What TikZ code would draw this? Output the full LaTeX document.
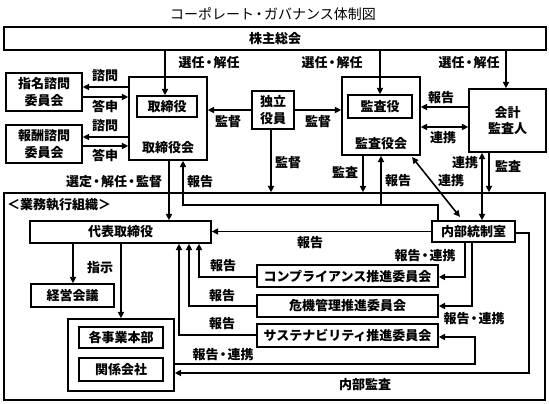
\documentclass[tikz,border=0pt]{standalone}
\usepackage{fontspec}
\setmainfont{Noto Sans CJK JP}
\usetikzlibrary{arrows.meta}
\newcommand\mydot{\kern-2pt・\kern-2pt}
\begin{document}
\begin{tikzpicture}[x=1pt,y=-1pt,
  bx/.style={draw, line width=1.3pt, inner sep=0pt, align=center, font=\fontsize{13}{16.5}\selectfont\bfseries},
  ar/.style={line width=1.6pt, -{Triangle[length=6.5pt,width=6pt]}},
  da/.style={line width=1.6pt, {Triangle[length=6.5pt,width=6pt]}-{Triangle[length=6.5pt,width=6pt]}},
  ln/.style={line width=1.6pt},
  lb/.style={inner sep=0pt, font=\fontsize{13}{15}\selectfont\bfseries}]
\useasboundingbox (0,0) rectangle (549,404);
% title
\node[inner sep=0pt, font=\fontsize{14}{15}\selectfont] (title) at (273,14) {コーポレート\mydot ガバナンス体制図};
% boxes
\node[bx, minimum width=542pt, minimum height=23pt] (sh) at (275,38.5) {株主総会};
\node[bx, minimum width=78pt, minimum height=83pt] (board) at (168,118.5) {};
\node[lb] (boardlbl) at (168,148) {取締役会};
\node[bx, minimum width=60pt, minimum height=21pt] (dir) at (167,106.5) {取締役};
\node[bx, minimum width=78pt, minimum height=78pt] (aud) at (381,116) {};
\node[lb] (audlbl) at (381,144) {監査役会};
\node[bx, minimum width=64pt, minimum height=23pt] (audr) at (380,106.5) {監査役};
\node[bx, minimum width=76pt, minimum height=38pt] (nom) at (44,92) {指名諮問\\委員会};
\node[bx, minimum width=76pt, minimum height=38pt] (rem) at (44,144) {報酬諮問\\委員会};
\node[bx, minimum width=42pt, minimum height=38pt] (ind) at (273,110) {独立\\役員};
\node[bx, minimum width=77pt, minimum height=63pt] (acc) at (507.5,120.5) {会計\\監査人};
\node[bx, minimum width=541pt, minimum height=207pt] (org) at (274.5,296.5) {};
\node[lb, anchor=west] (orglbl) at (7,205) {＜業務執行組織＞};
\node[bx, minimum width=181pt, minimum height=22pt] (rep) at (120.5,232) {代表取締役};
\node[bx, minimum width=83pt, minimum height=21pt] (ic) at (473.5,231.5) {内部統制室};
\node[bx, minimum width=181pt, minimum height=22pt] (comp) at (347.5,276) {コンプライアンス推進委員会};
\node[bx, minimum width=181pt, minimum height=22pt] (risk) at (347.5,306) {危機管理推進委員会};
\node[bx, minimum width=181pt, minimum height=23pt] (sus) at (347.5,335.5) {サステナビリティ推進委員会};
\node[bx, minimum width=83pt, minimum height=23pt] (mgmt) at (72.5,295.5) {経営会議};
\node[bx, minimum width=106pt, minimum height=72pt] (grp) at (121,355) {};
\node[bx, minimum width=84pt, minimum height=21pt] (biz) at (121,337.5) {各事業本部};
\node[bx, minimum width=84pt, minimum height=23pt] (aff) at (121,369.5) {関係会社};
% coordinates
\coordinate (x165) at (165,0);
\coordinate (x506) at (506,0);
\coordinate (y87) at (0,87);
\coordinate (y97) at (0,97);
\coordinate (y137) at (0,137);
\coordinate (y146) at (0,146);
\coordinate (y107) at (0,107);
\coordinate (y127) at (0,127);
\coordinate (x271) at (271,0);
\coordinate (x363) at (363,0);
\coordinate (x482) at (482,0);
\coordinate (x489) at (489,0);
\coordinate (x169) at (169,0);
\coordinate (rj) at (183,205);
\coordinate (rk) at (438,205);
\coordinate (d1) at (412,157);
\coordinate (d2) at (460,217);
\coordinate (ia) at (529,233);
\coordinate (ib) at (529,373);
\coordinate (c1) at (465,277);
\coordinate (c2) at (472,306);
\coordinate (s1) at (475,337);
\coordinate (s2) at (475,364);
\coordinate (k1) at (199,277);
\coordinate (k2) at (189,306);
\coordinate (k3) at (179,335);
\coordinate (x73) at (73,0);
% shareholders
\draw[ar] (sh.south -| x165) -- (dir.north -| x165);
\node[lb] (l1) at (209,63) {選任\mydot 解任};
\draw[ar] (sh.south -| audr.north) -- (audr.north);
\node[lb] (l2) at (332,63) {選任\mydot 解任};
\draw[ar] (sh.south -| x506) -- (acc.north -| x506);
\node[lb] (l3) at (469,63) {選任\mydot 解任};
% advisory committees
\draw[ar] (board.west |- y87) -- (nom.east |- y87);
\node[lb] (l4) at (105,76) {諮問};
\draw[ar] (nom.east |- y97) -- (board.west |- y97);
\node[lb] (l5) at (105,107) {答申};
\draw[ar] (board.west |- y137) -- (rem.east |- y137);
\node[lb] (l6) at (105,126) {諮問};
\draw[ar] (rem.east |- y146) -- (board.west |- y146);
\node[lb] (l7) at (105,156) {答申};
% independent officers
\draw[ar] (ind.west) -- (board.east |- ind.west);
\node[lb] (l8) at (228,122) {監督};
\draw[ar] (ind.east) -- (aud.west |- ind.east);
\node[lb] (l9) at (318,122) {監督};
\draw[ar] (ind.south -| x271) -- (org.north -| x271);
\node[lb] (l10) at (288,163) {監督};
% accounting auditor
\draw[ar] (acc.west |- y107) -- (aud.east |- y107);
\node[lb] (l11) at (441,98) {報告};
\draw[da] (aud.east |- y127) -- (acc.west |- y127);
\node[lb] (l12) at (443,138) {連携};
\draw[ar] (aud.south -| x363) -- (org.north -| x363);
\node[lb] (l13) at (345,172) {監査};
\draw[da] (acc.south -| x482) -- (ic.north -| x482);
\node[lb] (l14) at (465,163) {連携};
\draw[ar] (acc.south -| x489) -- (org.north -| x489);
\node[lb] (l15) at (508,166) {監査};
% reports from internal control
\draw[ar] (ic.north -| rk) -- (rk) -- (rj) -- (rj |- board.south);
\draw[ar] (aud.south |- rj) -- (aud.south);
\node[lb] (l16) at (200,182) {報告};
\node[lb] (l17) at (398,181) {報告};
\draw[da] (d1) -- (d2);
\node[lb] (l18) at (451,181) {連携};
% board to representative director
\draw[ar] (board.south -| x169) -- (rep.north -| x169);
\node[lb] (l19) at (114,182) {選定\mydot 解任\mydot 監督};
\draw[ar] (ic.west) -- (rep.east |- ic.west);
\node[lb] (l20) at (310,243) {報告};
% internal audit
\draw[ar] (ic.east |- ia) -- (ia) -- (ib) -- (grp.east |- ib);
\node[lb] (l21) at (365,385) {内部監査};
% report/cooperate to committees
\draw[ar] (ic.south -| c1) -- (c1) -- (comp.east |- c1);
\draw[ar] (ic.south -| c2) -- (c2) -- (risk.east |- c2);
\node[lb] (l22) at (425,256) {報告\mydot 連携};
\node[lb] (l23) at (474,319) {報告\mydot 連携};
\draw[ar] (grp.east |- s2) -- (s2) -- (s1) -- (sus.east |- s1);
\node[lb] (l24) at (223,355) {報告\mydot 連携};
% committee reports
\draw[ar] (comp.west |- k1) -- (k1) -- (k1 |- rep.south);
\node[lb] (l25) at (223,266) {報告};
\draw[ar] (risk.west |- k2) -- (k2) -- (k2 |- rep.south);
\node[lb] (l26) at (222,296) {報告};
\draw[ar] (sus.west |- k3) -- (k3) -- (k3 |- rep.south);
\node[lb] (l27) at (222,324) {報告};
% representative director to management
\draw[ar] (rep.south -| x73) -- (mgmt.north -| x73);
\node[lb] (l28) at (100,268) {指示};
\draw[ar] (rep.south -| grp.north) -- (grp.north);
\end{tikzpicture}
\end{document}
